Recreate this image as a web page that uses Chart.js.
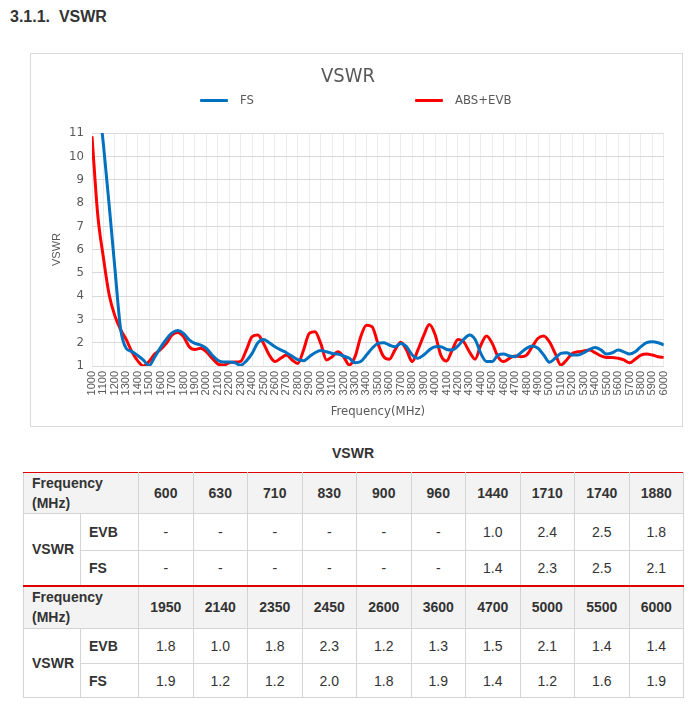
<!DOCTYPE html>
<html>
<head>
<meta charset="utf-8">
<title>VSWR</title>
<script src="https://cdn.jsdelivr.net/npm/chart.js@4.4.1/dist/chart.umd.min.js"></script>
<style>
    body {
        margin: 0;
        width: 692px;
        height: 704px;
        position: relative;
        overflow: hidden;
        background: #fff;
        color: #333;
        font-family: "Liberation Sans", Arial, sans-serif;
    }
    h3 {
        position: absolute;
        left: 10px;
        top: 7px;
        margin: 0;
        font-size: 16px;
        line-height: 20px;
        font-weight: bold;
    }
    #box {
        position: absolute;
        left: 30px;
        top: 53px;
        width: 651px;
        height: 372px;
        border: 1px solid #d9d9d9;
    }
    .legend-item {
        position: absolute;
        top: 38px;
        height: 16px;
        font-family: "Liberation Sans Narrow", "DejaVu Sans Condensed", sans-serif;
        font-size: 13px;
        line-height: 16px;
        color: #595959;
    }
    .legend-item span {
        display: inline-block;
        width: 28px;
        height: 3px;
        margin-right: 12px;
        vertical-align: middle;
        border-radius: 1px;
    }
    #caption {
        position: absolute;
        left: 23px;
        width: 660px;
        top: 445px;
        text-align: center;
        font-weight: bold;
        font-size: 14px;
    }
    table {
        position: absolute;
        left: 23px;
        top: 472px;
        width: 660px;
        border-collapse: collapse;
        table-layout: fixed;
        font-size: 14px;
    }
    td {
        border: 1px solid #d4d4d4;
        text-align: center;
        padding: 0;
    }
    tr.head td {
        background: #f3f3f3;
        font-weight: bold;
    }
    td.lbl {
        text-align: left;
        padding-left: 8px;
        font-weight: bold;
        line-height: 20px;
    }
    tr.first td { border-top: 1px solid #e00000; }
    tr.split td { border-top: 2px solid #e00000; }
</style>
</head>
<body>
<h3>3.1.1.&nbsp; VSWR</h3>
<div id="box">
    <canvas id="vswrChart"></canvas>
    <div class="legend-item" style="left:169px"><span style="background:#0070c0"></span>FS</div>
    <div class="legend-item" style="left:384px"><span style="background:#ff0000"></span>ABS+EVB</div>
</div>
<div id="caption">VSWR</div>
<table id="vswrTable"></table>

<script>
// measured curve, 50 MHz steps
const freqs = [1000, 1050, 1100, 1150, 1200, 1250, 1300, 1350, 1400, 1450,
    1500, 1550, 1600, 1650, 1700, 1750, 1800, 1850, 1900, 1950,
    2000, 2050, 2100, 2150, 2200, 2250, 2300, 2350, 2400, 2450,
    2500, 2550, 2600, 2650, 2700, 2750, 2800, 2850, 2900, 2950,
    3000, 3050, 3100, 3150, 3200, 3250, 3300, 3350, 3400, 3450,
    3500, 3550, 3600, 3650, 3700, 3750, 3800, 3850, 3900, 3950,
    4000, 4050, 4100, 4150, 4200, 4250, 4300, 4350, 4400, 4450,
    4500, 4550, 4600, 4650, 4700, 4750, 4800, 4850, 4900, 4950,
    5000, 5050, 5100, 5150, 5200, 5250, 5300, 5350, 5400, 5450,
    5500, 5550, 5600, 5650, 5700, 5750, 5800, 5850, 5900, 5950, 6000];

const fsVswr = [15.0, 12.8, 10.5, 7.9, 5.2, 2.6, 1.75, 1.62, 1.45, 1.25,
    1.02, 1.4, 1.8, 2.15, 2.42, 2.52, 2.4, 2.12, 1.97, 1.9,
    1.76, 1.47, 1.25, 1.17, 1.17, 1.14, 1.03, 1.22, 1.54, 2.0,
    2.14, 2.0, 1.83, 1.69, 1.57, 1.42, 1.27, 1.23, 1.4, 1.57,
    1.66, 1.61, 1.54, 1.51, 1.43, 1.33, 1.14, 1.19, 1.47, 1.76,
    1.97, 2.0, 1.9, 1.83, 1.97, 1.83, 1.47, 1.33, 1.47, 1.69,
    1.83, 1.83, 1.71, 1.69, 1.86, 2.14, 2.33, 2.14, 1.54, 1.19,
    1.19, 1.47, 1.51, 1.43, 1.4, 1.57, 1.76, 1.86, 1.76, 1.47,
    1.16, 1.33, 1.54, 1.57, 1.47, 1.47, 1.57, 1.71, 1.79, 1.69,
    1.51, 1.57, 1.69, 1.61, 1.51, 1.61, 1.83, 2.0, 2.04, 2.0, 1.9];

const evbVswr = [10.86, 7.5, 5.64, 4.06, 3.15, 2.56, 2.13, 1.6, 1.22, 1.0,
    1.2, 1.52, 1.71, 1.97, 2.33, 2.44, 2.26, 1.83, 1.71, 1.76,
    1.61, 1.33, 1.09, 1.04, 1.14, 1.17, 1.2, 1.69, 2.26, 2.33,
    1.97, 1.47, 1.19, 1.33, 1.47, 1.26, 1.11, 1.69, 2.4, 2.47,
    1.97, 1.26, 1.4, 1.61, 1.4, 1.04, 1.4, 2.26, 2.75, 2.68,
    1.97, 1.4, 1.29, 1.69, 2.02, 1.69, 1.19, 1.69, 2.3, 2.78,
    2.35, 1.47, 1.21, 1.69, 2.14, 2.04, 1.61, 1.29, 1.9, 2.29,
    1.97, 1.4, 1.19, 1.33, 1.43, 1.4, 1.47, 1.83, 2.19, 2.29,
    2.04, 1.54, 1.04, 1.26, 1.54, 1.61, 1.64, 1.69, 1.57, 1.43,
    1.37, 1.37, 1.33, 1.26, 1.14, 1.29, 1.47, 1.51, 1.47, 1.4, 1.37];

// table values
const tableFreq1 = [600, 630, 710, 830, 900, 960, 1440, 1710, 1740, 1880];
const tableEvb1 = ['-', '-', '-', '-', '-', '-', '1.0', '2.4', '2.5', '1.8'];
const tableFs1 = ['-', '-', '-', '-', '-', '-', '1.4', '2.3', '2.5', '2.1'];
const tableFreq2 = [1950, 2140, 2350, 2450, 2600, 3600, 4700, 5000, 5500, 6000];
const tableEvb2 = ['1.8', '1.0', '1.8', '2.3', '1.2', '1.3', '1.5', '2.1', '1.4', '1.4'];
const tableFs2 = ['1.9', '1.2', '1.2', '2.0', '1.8', '1.9', '1.4', '1.2', '1.6', '1.9'];

const narrow = '"Liberation Sans Narrow", "DejaVu Sans Condensed", sans-serif';
const grey = '#595959';

const ctx = document.getElementById('vswrChart').getContext('2d');
// eslint-disable-next-line no-undef
new Chart(ctx, {
    type: 'line',
    data: {
        datasets: [{
            label: 'FS',
            data: freqs.map((f, i) => ({x: f, y: fsVswr[i]})),
            borderColor: '#0070c0',
            borderWidth: 3,
            pointRadius: 0,
            cubicInterpolationMode: 'monotone'
        }, {
            label: 'ABS+EVB',
            data: freqs.map((f, i) => ({x: f, y: evbVswr[i]})),
            borderColor: '#ff0000',
            borderWidth: 3,
            pointRadius: 0,
            cubicInterpolationMode: 'monotone'
        }]
    },
    options: {
        responsive: true,
        maintainAspectRatio: false,
        animation: false,
        layout: {
            padding: {left: 0, right: 17, top: 0, bottom: 0}
        },
        plugins: {
            legend: {display: false},
            tooltip: {enabled: false},
            title: {
                display: true,
                text: 'VSWR',
                color: grey,
                font: {family: narrow, size: 20, weight: 'normal', lineHeight: 1.2},
                padding: {top: 11, bottom: 44}
            }
        },
        scales: {
            x: {
                type: 'linear',
                min: 1000,
                max: 6000,
                afterFit: (scale) => { scale.height = 60; },
                ticks: {
                    stepSize: 100,
                    autoSkip: false,
                    minRotation: 90,
                    maxRotation: 90,
                    padding: 5,
                    color: grey,
                    font: {family: '"Liberation Sans", sans-serif', size: 11},
                    callback: (v) => String(v)
                },
                grid: {color: '#ececec', drawTicks: false},
                border: {color: '#d9d9d9'},
                title: {
                    display: true,
                    text: 'Frequency(MHz)',
                    color: grey,
                    font: {family: narrow, size: 13},
                    padding: {top: 0, bottom: 7}
                }
            },
            y: {
                min: 1,
                max: 11,
                afterFit: (scale) => { scale.width = 61; },
                ticks: {
                    stepSize: 1,
                    padding: 8,
                    color: grey,
                    font: {family: narrow, size: 13}
                },
                grid: {color: '#d9d9d9', drawTicks: false},
                border: {display: false},
                title: {
                    display: true,
                    text: 'VSWR',
                    color: grey,
                    font: {family: '"Liberation Sans", sans-serif', size: 11},
                    padding: {top: 19, bottom: 0}
                }
            }
        }
    }
});

// table below the chart
const table = document.getElementById('vswrTable');

const colgroup = document.createElement('colgroup');
const widths = [57, 58].concat(tableFreq1.map(() => 54.5));
for (let w of widths) {
    const col = document.createElement('col');
    col.style.width = w + 'px';
    colgroup.append(col);
}
table.append(colgroup);

function addBlock(freqRow, evbRow, fsRow, rowClass, heights) {
    const head = document.createElement('tr');
    head.className = 'head ' + rowClass;
    head.style.height = heights[0] + 'px';
    const headCell = document.createElement('td');
    headCell.colSpan = 2;
    headCell.className = 'lbl';
    headCell.innerHTML = 'Frequency<br>(MHz)';
    head.append(headCell);
    for (let f of freqRow) {
        const td = document.createElement('td');
        td.textContent = f;
        head.append(td);
    }
    table.append(head);

    const evbTr = document.createElement('tr');
    evbTr.style.height = heights[1] + 'px';
    const vswrCell = document.createElement('td');
    vswrCell.rowSpan = 2;
    vswrCell.className = 'lbl';
    vswrCell.textContent = 'VSWR';
    const evbCell = document.createElement('td');
    evbCell.className = 'lbl';
    evbCell.textContent = 'EVB';
    evbTr.append(vswrCell, evbCell);
    for (let v of evbRow) {
        const td = document.createElement('td');
        td.textContent = v;
        evbTr.append(td);
    }
    table.append(evbTr);

    const fsTr = document.createElement('tr');
    fsTr.style.height = heights[2] + 'px';
    const fsCell = document.createElement('td');
    fsCell.className = 'lbl';
    fsCell.textContent = 'FS';
    fsTr.append(fsCell);
    for (let v of fsRow) {
        const td = document.createElement('td');
        td.textContent = v;
        fsTr.append(td);
    }
    table.append(fsTr);
}

addBlock(tableFreq1, tableEvb1, tableFs1, 'first', [41, 37, 35]);
addBlock(tableFreq2, tableEvb2, tableFs2, 'split', [43, 35, 34]);
</script>
</body>
</html>
